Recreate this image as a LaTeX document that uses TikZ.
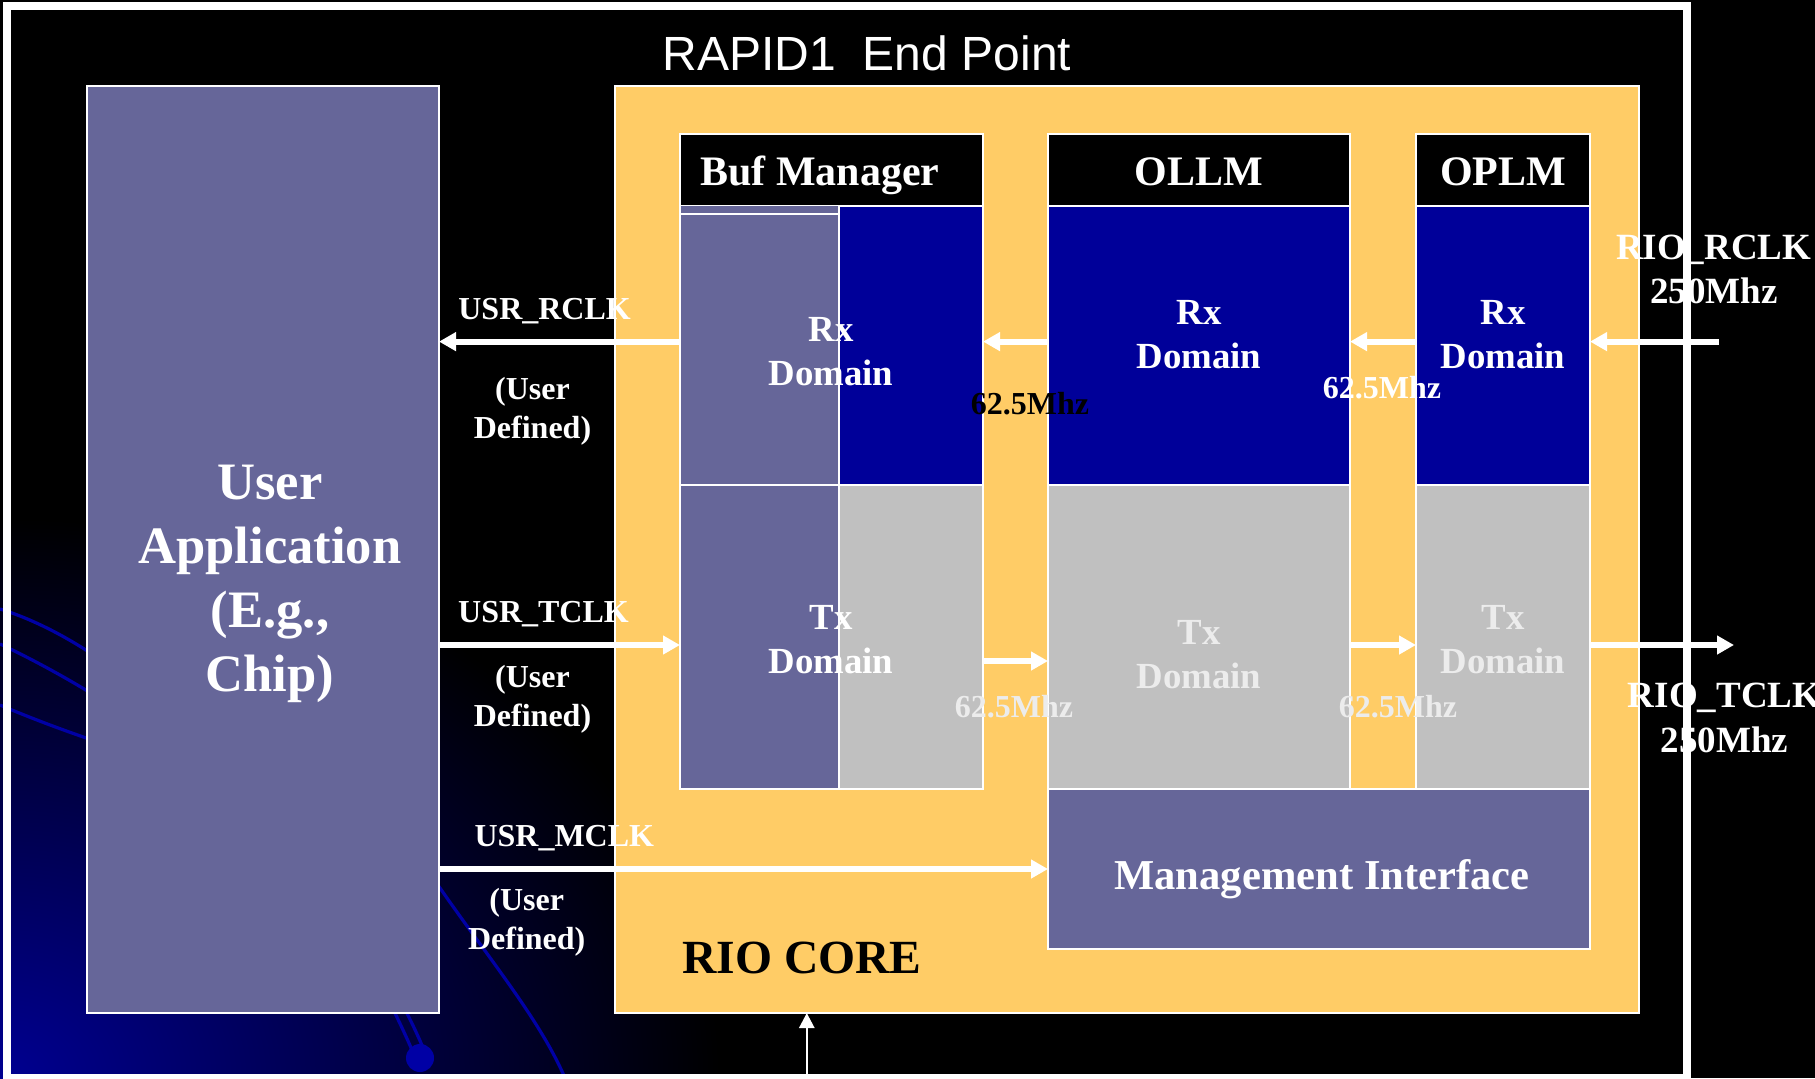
\documentclass[tikz,border=0pt]{standalone}
\usepackage{fontspec}
\setmainfont{Liberation Serif}
\newfontfamily\titlefont{Liberation Sans}
\usetikzlibrary{arrows.meta,fit}

\definecolor{slate}{RGB}{102,102,153}
\definecolor{corefill}{RGB}{255,204,102}
\definecolor{rxblue}{RGB}{0,0,153}
\definecolor{txgrey}{RGB}{192,192,192}
\definecolor{glow}{RGB}{0,0,145}
\definecolor{swirl}{RGB}{0,0,165}
\definecolor{paletext}{RGB}{236,236,236}

\tikzset{
  blk/.style={inner sep=0pt, outer sep=0pt, draw=white, line width=1pt},
  clk/.style={draw=white, line width=3pt, -{Triangle[length=8.5pt,width=9pt]}},
  thinclk/.style={draw=white, line width=1.3pt, -{Triangle[length=7.5pt,width=7.5pt]}},
  swirlline/.style={draw=swirl, line width=1.6pt},
  lbl/.style={text=white, font=\fontsize{16}{19.5}\selectfont\bfseries, align=center, inner sep=0pt},
  freq/.style={font=\fontsize{16}{19}\selectfont\bfseries, inner sep=0pt},
  riolbl/.style={text=white, font=\fontsize{18.5}{22.3}\selectfont\bfseries, align=center, inner sep=0pt},
  headtxt/.style={text=white, font=\fontsize{21}{25}\selectfont\bfseries, inner sep=0pt},
  domtxt/.style={font=\fontsize{18.4}{22}\selectfont\bfseries, align=center, inner sep=0pt},
}

\begin{document}
\begin{tikzpicture}[x=0.5pt, y=-0.5pt]
  \useasboundingbox (0,0) rectangle (1815,1078);
  \fill[black] (0,0) rectangle (1815,1078);

  % blue glow of the slide background, lower left
  \begin{scope}
    \clip (0,0) rectangle (1815,1078);
    \shade[inner color=glow, outer color=black] (0,1078) ellipse [x radius=720, y radius=560];
  \end{scope}

  % decorative swirls of the slide background
  \draw[swirlline] (0,609) .. controls (150,655) and (330,860) .. (412,1050);
  \draw[swirlline] (0,644) .. controls (140,710) and (340,850) .. (424,1050);
  \draw[swirlline] (0,705) .. controls (200,790) and (380,800) .. (440,888)
                   .. controls (490,960) and (540,1020) .. (565,1078);
  \fill[swirl] (420,1058) circle (14);

  % slide frame
  \draw[white, line width=4pt] (6.5,5.5) rectangle (1687,1078);

  \node[text=white, font=\titlefont\fontsize{24}{28}\selectfont, inner sep=0pt] (title) at (867,53) {RAPID1\ \ End Point};

  % user application
  \node[blk, fill=slate, fit={(87,86)(439,1013)}] (app) {};
  \node[text=white, font=\fontsize{26.3}{32}\selectfont\bfseries, align=center, inner sep=0pt] (apptxt) at (270,584)
    {User\\Application\\(E.g.,\\Chip)};

  % RIO core
  \node[blk, fill=corefill, fit={(615,86)(1639,1013)}] (core) {};
  \node[font=\fontsize{23.8}{28}\selectfont\bfseries, text=black, inner sep=0pt] (coretxt) at (802,958) {RIO CORE};

  % buffer manager
  \node[blk, fill=black, fit={(680,134)(983,206)}] (bufhead) {};
  \fill[slate] (680,206) rectangle (839,214);
  \node[blk, fill=slate, fit={(680,214)(839,789)}] (bufuser) {};
  \node[blk, fill=rxblue, fit={(839,206)(983,485)}] (bufrx) {};
  \node[blk, fill=txgrey, fit={(839,485)(983,789)}] (buftx) {};
  \draw[white, line width=1pt] (bufuser.west |- bufrx.south) -- (bufrx.south east);
  \node[blk, fit={(680,134)(983,789)}] (buf) {};
  \node[headtxt, anchor=base] (bufname) at (820,185) {Buf Manager};
  \node[domtxt, text=white] (bufrxtxt) at (831,351.5) {Rx\\Domain};
  \node[domtxt, text=white] (buftxtxt) at (831,639.5) {Tx\\Domain};

  % OLLM
  \node[blk, fill=black, fit={(1048,134)(1350,206)}] (ollmhead) {};
  \node[blk, fill=rxblue, fit={(1048,206)(1350,485)}] (ollmrx) {};
  \node[blk, fill=txgrey, fit={(1048,485)(1350,789)}] (ollmtx) {};
  \node[headtxt, anchor=base] (ollmname) at (1199,185) {OLLM};
  \node[domtxt, text=white] (ollmrxtxt) at (1199,334.5) {Rx\\Domain};
  \node[domtxt, text=paletext] (ollmtxtxt) at (1199,654.5) {Tx\\Domain};

  % OPLM
  \node[blk, fill=black, fit={(1416,134)(1590,206)}] (oplmhead) {};
  \node[blk, fill=rxblue, fit={(1416,206)(1590,485)}] (oplmrx) {};
  \node[blk, fill=txgrey, fit={(1416,485)(1590,789)}] (oplmtx) {};
  \node[headtxt, anchor=base] (oplmname) at (1503,185) {OPLM};
  \node[domtxt, text=white] (oplmrxtxt) at (1503,334.5) {Rx\\Domain};
  \node[domtxt, text=paletext] (oplmtxtxt) at (1503,639.5) {Tx\\Domain};

  % management interface
  \node[blk, fill=slate, fit={(1048,789)(1590,949)}] (mgmt) {};
  \node[headtxt, font=\fontsize{21.3}{25}\selectfont\bfseries] (mgmttxt) at (1322,879) {Management Interface};

  % clock levels and free ends
  \coordinate (rxlvl) at (0,341.6);
  \coordinate (txlvl) at (0,645);
  \coordinate (txlvlb) at (0,661);
  \coordinate (mlvl) at (0,869);
  \coordinate (rioin) at (1719,341.6);
  \coordinate (rioout) at (1734,645);
  \coordinate (corein) at (806.8,1078);

  % receive clocks
  \draw[clk] (rioin) -- (oplmrx.east |- rxlvl);
  \draw[clk] (oplmrx.west |- rxlvl) -- (ollmrx.east |- rxlvl);
  \draw[clk] (ollmrx.west |- rxlvl) -- (bufrx.east |- rxlvl);
  \draw[clk] (buf.west |- rxlvl) -- (app.east |- rxlvl);

  % transmit clocks
  \draw[clk] (app.east |- txlvl) -- (buf.west |- txlvl);
  \draw[clk] (buftx.east |- txlvlb) -- (ollmtx.west |- txlvlb);
  \draw[clk] (ollmtx.east |- txlvl) -- (oplmtx.west |- txlvl);
  \draw[clk] (oplmtx.east |- txlvl) -- (rioout);

  % management clock
  \draw[clk] (app.east |- mlvl) -- (mgmt.west |- mlvl);

  % core input
  \draw[thinclk] (corein) -- (core.south -| corein);

  % user side labels
  \node[lbl] (rclk) at (544.6,311.5) {USR\_RCLK};
  \node[lbl] (rclkdef) at (532.5,411) {(User\\Defined)};
  \node[lbl] (tclk) at (543.5,614.5) {USR\_TCLK};
  \node[lbl] (tclkdef) at (532.5,699) {(User\\Defined)};
  \node[lbl] (mclk) at (564.3,838.5) {USR\_MCLK};
  \node[lbl] (mclkdef) at (526.7,922) {(User\\Defined)};

  % internal clock rates
  \node[freq, text=black] (f1) at (1030,404) {62.5Mhz};
  \node[freq, text=white] (f2) at (1382,388) {62.5Mhz};
  \node[freq, text=paletext] (f3) at (1014,707) {62.5Mhz};
  \node[freq, text=paletext] (f4) at (1398,707) {62.5Mhz};

  % serial side labels
  \node[riolbl] (riorclk) at (1713.7,269.5) {RIO\_RCLK\\250Mhz};
  \node[riolbl] (riotclk) at (1724.6,717.7) {RIO\_TCLK\\250Mhz};
\end{tikzpicture}
\end{document}
